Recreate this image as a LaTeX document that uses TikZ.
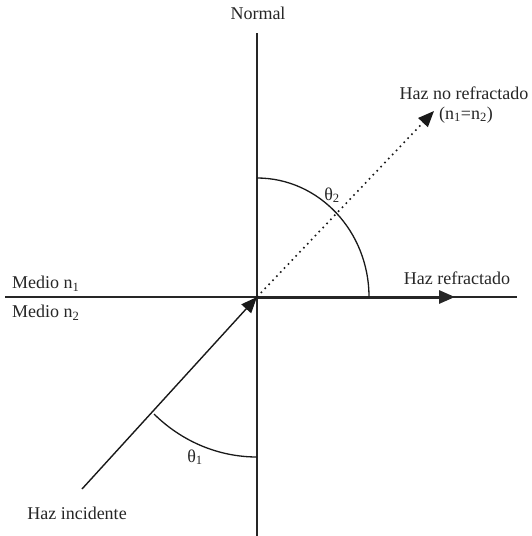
\documentclass[tikz,border=0pt]{standalone}
\usepackage{fontspec}
\setmainfont{Liberation Serif}
\usetikzlibrary{arrows.meta}
\begin{document}
\begin{tikzpicture}[x=1pt,y=-1pt,
  lbl/.style={font=\fontsize{18}{20}\selectfont, inner sep=0pt, text=black!85},
  axis/.style={line width=1.4pt, draw=black!85},
  arc/.style={line width=1.3pt, draw=black!90},
  tip/.style={-{Triangle[length=16pt,width=13pt]}}]
\useasboundingbox (0,0) rectangle (532,536);
\coordinate (O) at (257,297);
\coordinate (Ntop) at (257,33);
\coordinate (Nbot) at (257,536);
\coordinate (Hl) at (5,297);
\coordinate (Hr) at (517,297);
\coordinate (Istart) at (82,489);
\coordinate (Rend) at (455,297);
\coordinate (Dend) at (434,111);
% axes
\draw[axis] (Ntop) -- (Nbot);
\draw[axis] (Hl) -- (Hr);
% refracted beam
\draw[line width=3pt, black!85, tip] (O) -- (Rend);
% incident beam
\draw[line width=1.4pt, black!90, tip] (Istart) -- (O);
% non refracted beam
\draw[line width=1.6pt, black!90, dash pattern=on 1.6pt off 4pt, tip] (O) -- (Dend);
% angle arcs
\draw[arc] (257,178) arc[start angle=-90, end angle=0, x radius=112, y radius=119];
\draw[arc] (257,457) arc[start angle=90, end angle=133, x radius=151, y radius=160];
% labels
\node[lbl] (normal) at (258,13) {Normal};
\node[lbl] (nr) at (464,93) {Haz no refractado};
\node[lbl] (nreq) at (466,115) {(n\textsubscript{1}=n\textsubscript{2})};
\node[lbl] (refr) at (457,278) {Haz refractado};
\node[lbl, anchor=west] (m1) at (12,284) {Medio n\textsubscript{1}};
\node[lbl, anchor=west] (m2) at (12,313) {Medio n\textsubscript{2}};
\node[lbl] (t2) at (332,195) {θ\textsubscript{2}};
\node[lbl] (t1) at (195,457) {θ\textsubscript{1}};
\node[lbl] (inc) at (77,513) {Haz incidente};
\end{tikzpicture}
\end{document}
